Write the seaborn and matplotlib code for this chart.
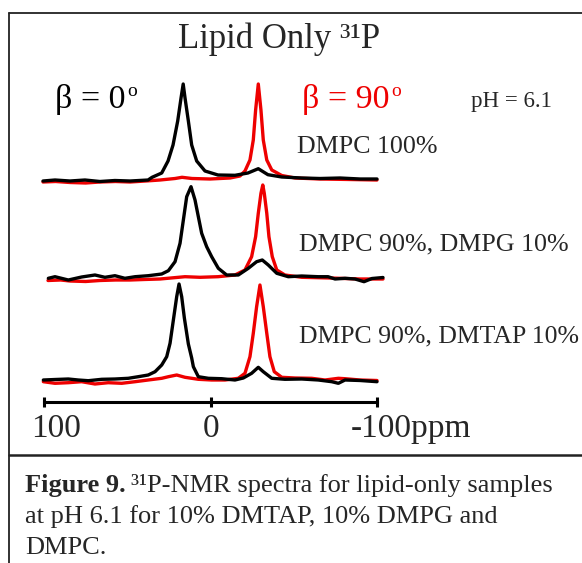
import numpy as np
import pandas as pd
import matplotlib
matplotlib.use("Agg")
import matplotlib.pyplot as plt
from matplotlib.lines import Line2D
import seaborn as sns

# ---------------- data (ppm, relative intensity) ----------------
# DMPC 100%
dmpc_black_ppm = [100.6, 93.4, 84.4, 75.4, 66.4, 57.4, 48.3, 37.5, 35.1, 29.3, 25.5, 22.5, 19.7, 17.7,
                  16.4, 15.3, 13.3, 11.3, 8.3, 3.3, -4.5, -14.7, -22.5, -28.7, -34.5, -42.8, -54.8,
                  -65.8, -77.8, -89.8, -100.0]
dmpc_black_int = [0, 1, 0, 1, -0.5, 0.5, 0, 1, 3.7, 8, 20, 36, 60, 83,
                  97, 83, 60, 36, 20, 10, 6, 5.7, 8, 12.3, 6.3, 4, 3,
                  2.5, 3, 2, 2]
dmpc_red_ppm = [100.6, 93.0, 84.4, 75.0, 66.4, 57.0, 48.3, 39.0, 30.3, 21.3, 17.1, 11.1, 0.3, -11.7,
                -17.7, -20.7, -23.7, -25.7, -27.1, -28.7, -30.3, -31.7, -33.8, -36.8, -42.8, -50.8,
                -65.8, -83.8, -100.0]
dmpc_red_int = [-1, -0.5, -1.5, -2, -1, -0.5, -1, 0, 1, 2.5, 3.7, 2.5, 2, 3,
                5, 10, 21, 41, 71, 97, 71, 41, 21, 11, 5.5, 3,
                2, 1.5, 1]

# DMPC 90%, DMPG 10%
dmpg_black_ppm = [97.4, 93.4, 85.4, 77.4, 69.4, 63.4, 57.4, 51.4, 45.3, 37.4, 29.3, 25.3, 21.3, 18.3,
                  16.3, 14.3, 11.7, 9.3, 7.3, 5.3, 2.3, -0.7, -4.7, -9.7, -16.7, -22.7, -27.7, -31.1,
                  -34.7, -39.8, -46.7, -54.8, -64.6, -70.6, -74.8, -80.8, -86.8, -92.2, -97.0, -103.6]
dmpg_black_int = [0.7, 2.3, -1, 2, 4, 1.7, 3.3, 0.7, 2.3, 3.3, 5, 8.3, 17.3, 35.7,
                  59, 82.3, 92.3, 79, 62.3, 45.7, 32.3, 22.3, 10.7, 4, 4, 10.7, 17.3, 19,
                  14, 5.7, 2.3, 3, 2.3, 2.3, 0, 0.7, 0, -2.7, 0.5, 1.5]
dmpg_red_ppm = [97.6, 90.0, 84.4, 75.0, 66.4, 57.0, 48.3, 40.0, 30.3, 15.3, 6.3, -4.5, -14.7, -20.7,
                -24.7, -27.1, -28.7, -30.3, -31.4, -32.3, -33.8, -35.1, -37.1, -39.8, -44.7, -54.8,
                -71.8, -89.8, -103.6]
dmpg_red_int = [-1.5, -1, -2, -2.5, -1.5, -1, -1, -0.5, 0, 2.3, 1.7, 2.3, 4, 9,
                22.3, 42.3, 65.7, 85.7, 94, 85.7, 65.7, 42.3, 22.3, 9, 4, 1.7,
                1, 0, 0]

# DMPC 90%, DMTAP 10%
dmtap_black_ppm = [100.4, 93.4, 85.4, 79.4, 73.4, 65.3, 57.4, 49.4, 43.4, 37.4, 33.3, 29.3, 26.3, 24.3,
                   22.3, 20.3, 18.9, 17.3, 15.7, 13.3, 11.3, 10.3, 7.3, 1.3, -6.7, -14.7, -19.7, -24.7,
                   -28.7, -31.7, -36.8, -44.7, -54.8, -64.7, -72.8, -76.8, -80.8, -89.8, -100.0]
dmtap_black_int = [1, 1.5, 2, 1, 0.3, 1.7, 2, 2.7, 4.3, 6, 9.3, 16, 24.3, 37.7,
                   61, 84.3, 97, 84.3, 63, 37, 23, 14.3, 4.3, 2.7, 2.3, 1, 3, 7.7,
                   13.7, 9.3, 2.7, 1.7, 2, 1, -0.7, -2.3, 1, 0.5, -0.7]
dmtap_red_ppm = [100.4, 93.4, 85.4, 77.4, 69.4, 61.4, 53.3, 45.3, 37.4, 29.3, 25.3, 20.3, 15.3, 7.3,
                 -0.7, -8.7, -16.7, -20.7, -23.7, -25.7, -27.7, -29.7, -31.7, -33.8, -35.7, -38.3,
                 -42.8, -50.8, -60.8, -68.8, -76.8, -80.8, -89.8, -100.0]
dmtap_red_int = [-0.7, -2.3, -1.7, -0.7, -3, -1.7, -2.3, -0.7, 1, 2.7, 4.3, 6, 3.7, 1.7,
                 1, 1, 2.7, 7.7, 24.3, 47.7, 74.3, 96, 74.3, 47.7, 24.3, 9.3,
                 3.7, 3, 2.7, 1, 2.7, 2.3, 1, 0.5]

sample_labels = ["DMPC 100%", "DMPC 90%, DMPG 10%", "DMPC 90%, DMTAP 10%"]
scale_ticks = [100, 0, -100]
scale_labels = ["100", "0", "-100ppm"]

# ---------------- layout ----------------
W, H = 582, 563
sns.set_style("white")
plt.rcParams["font.family"] = ["Liberation Serif", "DejaVu Serif"]

fig = plt.figure(figsize=(W / 100, H / 100), dpi=100)
fig.patch.set_facecolor("white")
ax = fig.add_axes([0, 0, 1, 1])
ax.set_facecolor("none")

PX_PER_PPM = 1.665
X0 = 210.5  # pixel of 0 ppm
ax.set_xlim(X0 / PX_PER_PPM, (X0 - W) / PX_PER_PPM)
ax.set_ylim(0, H)

def fx(px):
    return px / W

def fy(py):
    return 1 - py / H

offsets = [H - 181, H - 279, H - 381]
spectra = [
    (dmpc_red_ppm, dmpc_red_int, dmpc_black_ppm, dmpc_black_int),
    (dmpg_red_ppm, dmpg_red_int, dmpg_black_ppm, dmpg_black_int),
    (dmtap_red_ppm, dmtap_red_int, dmtap_black_ppm, dmtap_black_int),
]
LW = 2.4
for (rp, ri, bp, bi), off in zip(spectra, offsets):
    dr = pd.DataFrame({"ppm": rp, "y": np.array(ri) + off})
    db = pd.DataFrame({"ppm": bp, "y": np.array(bi) + off})
    sns.lineplot(data=dr, x="ppm", y="y", color="#ee0000", linewidth=LW, ax=ax,
                 estimator=None, sort=False)
    sns.lineplot(data=db, x="ppm", y="y", color="black", linewidth=LW, ax=ax,
                 estimator=None, sort=False)

# scale bar as the x axis
for s in ["top", "left", "right"]:
    ax.spines[s].set_visible(False)
ax.spines["bottom"].set_position(("data", H - 402))
ax.spines["bottom"].set_bounds(100, -100)
ax.spines["bottom"].set_linewidth(2.2)
ax.spines["bottom"].set_color("black")
ax.set_xticks(scale_ticks)
ax.set_xticklabels(["", "", ""])
ax.set_yticks([])
ax.tick_params(axis="x", bottom=True, direction="inout", length=6.5, width=2.2,
               color="black")
ax.set_xlabel("")
ax.set_ylabel("")

# scale labels
fig.text(fx(56), fy(437), scale_labels[0], fontsize=24, ha="center", va="baseline")
fig.text(fx(211), fy(437), scale_labels[1], fontsize=24, ha="center", va="baseline")
fig.text(fx(351), fy(437), scale_labels[2], fontsize=24, ha="left", va="baseline")

# annotations
fig.text(fx(279), fy(48), "Lipid Only ³¹P", fontsize=25, ha="center", va="baseline")
t0 = fig.text(fx(55), fy(108), "β = 0", fontsize=24.5, ha="left", va="baseline",
              color="black")
ax.annotate("o", xy=(1, fy(96)), xycoords=(t0, "figure fraction"), xytext=(1.5, 0),
            textcoords="offset points", fontsize=14, ha="left", va="baseline",
            color="black")
t90 = fig.text(fx(302), fy(108), "β = 90", fontsize=24.5, ha="left", va="baseline",
               color="#ee0000")
ax.annotate("o", xy=(1, fy(96)), xycoords=(t90, "figure fraction"), xytext=(1.5, 0),
            textcoords="offset points", fontsize=14, ha="left", va="baseline",
            color="#ee0000")
fig.text(fx(511), fy(107), "pH = 6.1", fontsize=16.5, ha="center", va="baseline")
fig.text(fx(297), fy(153), sample_labels[0], fontsize=18.7, ha="left", va="baseline")
fig.text(fx(299), fy(250), sample_labels[1], fontsize=18.7, ha="left", va="baseline")
fig.text(fx(299), fy(342), sample_labels[2], fontsize=18.5, ha="left", va="baseline")

# frame lines
fc = "#222222"
fig.add_artist(Line2D([fx(8.5), fx(W)], [fy(12.5), fy(12.5)], color=fc, lw=1.3,
                      transform=fig.transFigure))
fig.add_artist(Line2D([fx(8.5), fx(8.5)], [fy(12.5), fy(H)], color=fc, lw=1.3,
                      transform=fig.transFigure))
fig.add_artist(Line2D([fx(8.5), fx(W)], [fy(455), fy(455)], color=fc, lw=1.8,
                      transform=fig.transFigure))

# caption
cap_fs = 19
t_bold = fig.text(fx(25), fy(492), "Figure 9.", fontsize=cap_fs, fontweight="bold",
                  ha="left", va="baseline")
fig.canvas.draw()
bb = t_bold.get_window_extent()
fig.text(bb.x1 / W + 5 / W, fy(492), "³¹P-NMR spectra for lipid-only samples", fontsize=cap_fs,
         ha="left", va="baseline")
fig.text(fx(25), fy(523), "at pH 6.1 for 10% DMTAP, 10% DMPG and", fontsize=cap_fs,
         ha="left", va="baseline")
fig.text(fx(25), fy(554), "DMPC.", fontsize=cap_fs, ha="left", va="baseline")

fig.savefig("out.png", dpi=100)
